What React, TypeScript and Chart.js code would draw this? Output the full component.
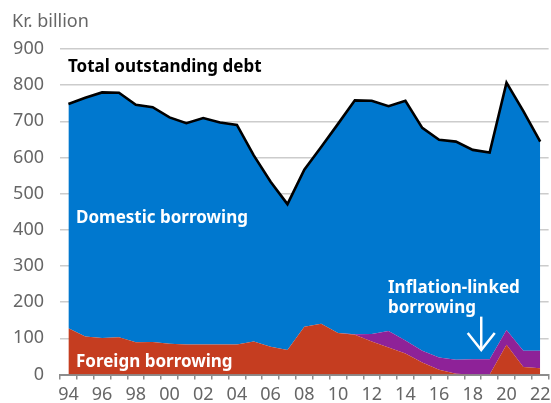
import React, { useEffect, useRef } from 'react';
import { Chart, registerables } from 'chart.js';

Chart.register(...registerables);

// ---- Data (Kr. billion) ----
const years = ['94', '95', '96', '97', '98', '99', '00', '01', '02', '03', '04', '05', '06', '07', '08', '09', '10', '11', '12', '13', '14', '15', '16', '17', '18', '19', '20', '21', '22'];
const totalDebt = [748, 765, 780, 779, 746, 739, 711, 695, 709, 697, 690, 606, 533, 471, 566, 629, 693, 758, 757, 742, 757, 682, 649, 644, 621, 614, 807, 728, 644];
const foreignBorrowing = [128, 105, 101, 103, 89, 90, 85, 83, 83, 83, 83, 91, 77, 68, 132, 140, 115, 110, 91, 75, 58, 33, 13, 2, 0, 0, 82, 21, 17];
const inflationLinked = [0, 0, 0, 0, 0, 0, 0, 0, 0, 0, 0, 0, 0, 0, 0, 0, 0, 1, 21, 45, 36, 33, 34, 39, 42, 42, 41, 45, 49];
const domesticBorrowing = [620, 660, 679, 676, 657, 649, 626, 612, 626, 614, 607, 515, 456, 403, 434, 489, 578, 647, 645, 622, 663, 616, 602, 603, 579, 572, 684, 662, 578];
const yTickValues = [0, 100, 200, 300, 400, 500, 600, 700, 800, 900];

const FONT = '"Noto Sans", "DejaVu Sans", sans-serif';
const BLUE = '#0078CF';
const RED = '#C53D20';
const PURPLE = '#8E2298';
const TICK_GREY = '#666666';

const annotationPlugin = {
  id: 'annotations',
  afterDatasetsDraw(chart: any) {
    const { ctx, chartArea, scales } = chart;
    const x = scales.x;
    const y = scales.y;
    ctx.save();
    ctx.textAlign = 'left';
    ctx.textBaseline = 'alphabetic';

    // unit label
    ctx.fillStyle = TICK_GREY;
    ctx.font = `18px ${FONT}`;
    ctx.fillText('Kr. billion', 12, 27);

    // total label
    ctx.fillStyle = '#000000';
    ctx.font = `bold 17px ${FONT}`;
    ctx.fillText('Total outstanding debt', chartArea.left + 8, 72);

    // in-area labels
    ctx.fillStyle = '#ffffff';
    ctx.font = `bold 17px ${FONT}`;
    ctx.fillText('Domestic borrowing', chartArea.left + 16, y.getPixelForValue(419));
    ctx.fillText('Foreign borrowing', chartArea.left + 16, y.getPixelForValue(20));
    ctx.fillText('Inflation-linked', 388, y.getPixelForValue(226));
    ctx.fillText('borrowing', 388, y.getPixelForValue(170));

    // arrow
    const ax = x.getPixelForValue(24.5);
    const top = y.getPixelForValue(160);
    const bot = y.getPixelForValue(68);
    ctx.strokeStyle = '#ffffff';
    ctx.lineWidth = 2.5;
    ctx.lineCap = 'butt';
    ctx.beginPath();
    ctx.moveTo(ax, top);
    ctx.lineTo(ax, bot);
    ctx.stroke();
    ctx.beginPath();
    ctx.moveTo(ax - 13.5, bot - 17);
    ctx.lineTo(ax, bot);
    ctx.lineTo(ax + 13.5, bot - 17);
    ctx.stroke();
    ctx.restore();
  },
};

export default function App() {
  const canvasRef = useRef<HTMLCanvasElement | null>(null);

  useEffect(() => {
    document.body.style.margin = '0';
    document.documentElement.style.overflow = 'hidden';
    const canvas = canvasRef.current;
    if (!canvas) return;

    const chart = new Chart(canvas, {
      type: 'line',
      data: {
        labels: years,
        datasets: [
          {
            label: 'Foreign borrowing',
            data: foreignBorrowing,
            backgroundColor: RED,
            borderWidth: 0,
            pointRadius: 0,
            fill: 'origin',
            stack: 'parts',
            order: 1,
          },
          {
            label: 'Inflation-linked borrowing',
            data: inflationLinked,
            backgroundColor: PURPLE,
            borderWidth: 0,
            pointRadius: 0,
            fill: '-1',
            stack: 'parts',
            order: 1,
          },
          {
            label: 'Domestic borrowing',
            data: domesticBorrowing,
            backgroundColor: BLUE,
            borderWidth: 0,
            pointRadius: 0,
            fill: '-1',
            stack: 'parts',
            order: 1,
          },
          {
            label: 'Total outstanding debt',
            data: totalDebt,
            borderColor: '#000000',
            borderWidth: 2.6,
            pointRadius: 0,
            fill: false,
            stack: 'total',
            order: 0,
          },
        ],
      } as any,
      options: {
        responsive: false,
        animation: false,
        devicePixelRatio: 1,
        layout: { padding: { top: 49, left: 0, right: 0, bottom: 0 } },
        plugins: {
          legend: { display: false },
          tooltip: { enabled: false },
          title: { display: false },
        },
        elements: { line: { tension: 0 } },
        scales: {
          x: {
            type: 'category',
            offset: true,
            z: 1,
            grid: {
              offset: true,
              drawOnChartArea: false,
              drawTicks: true,
              tickLength: 5,
              color: '#8c8c8c',
              lineWidth: 1.5,
            },
            border: { display: true, color: '#8c8c8c', width: 2 },
            ticks: {
              autoSkip: false,
              maxRotation: 0,
              minRotation: 0,
              color: TICK_GREY,
              font: { family: FONT, size: 18 },
              padding: 4.5,
              callback: (_v: any, i: number) => (i % 2 === 0 ? years[i] : ''),
            },
            afterFit(scale: any) {
              scale.height = 28.5;
            },
          },
          y: {
            stacked: true,
            min: 0,
            max: 900,
            afterBuildTicks(scale: any) {
              scale.ticks = yTickValues.map((v) => ({ value: v }));
            },
            grid: { color: '#cccccc', lineWidth: 1.5, drawTicks: false },
            border: { display: false },
            ticks: {
              color: TICK_GREY,
              font: { family: FONT, size: 18 },
              padding: 16,
            },
            afterFit(scale: any) {
              scale.width = 60;
            },
          },
        },
      } as any,
      plugins: [annotationPlugin],
    });

    return () => {
      chart.destroy();
    };
  }, []);

  return (
    <div style={{ width: 551, height: 403, overflow: 'hidden', position: 'relative' }}>
      <canvas ref={canvasRef} width={555} height={403} style={{ display: 'block', width: 555, height: 403 }} />
    </div>
  );
}
